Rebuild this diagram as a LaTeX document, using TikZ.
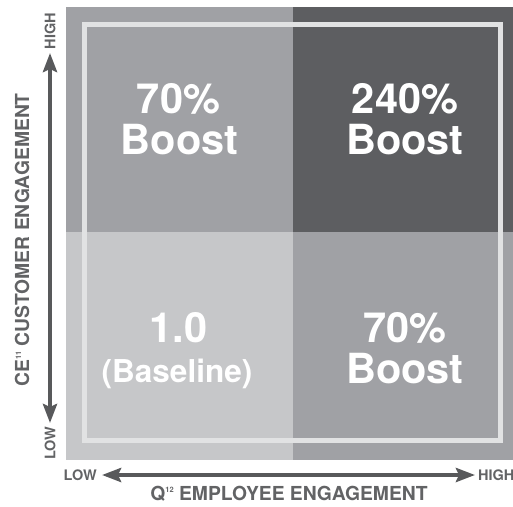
\documentclass[tikz,border=0pt]{standalone}
\usepackage{fontspec}
\setmainfont{TeX Gyre Heros}
\usetikzlibrary{arrows.meta}
\definecolor{qlight}{HTML}{C6C7C9}
\definecolor{qmid}{HTML}{A0A1A5}
\definecolor{qdark}{HTML}{5D5E61}
\definecolor{qframe}{HTML}{E1E2E3}
\definecolor{axisc}{HTML}{58595B}
\definecolor{labc}{HTML}{626365}
\tikzset{
  bigtxt/.style={text=white,font=\bfseries\fontsize{41.5}{41.5}\selectfont,anchor=base,inner sep=0pt},
  medtxt/.style={text=white,font=\bfseries\fontsize{31.5}{31.5}\selectfont,anchor=base,inner sep=0pt},
  ticklab/.style={text=labc,font=\bfseries\fontsize{14.5}{14.5}\selectfont,inner sep=0pt},
  axtitle/.style={text=labc,font=\bfseries\fontsize{19.3}{19.3}\selectfont,inner sep=0pt},
  axisarrow/.style={draw=axisc,line width=4pt,{Stealth[length=19pt,width=14pt,inset=3pt]}-{Stealth[length=19pt,width=14pt,inset=3pt]}}
}
\begin{document}
\begin{tikzpicture}[x=1pt,y=-1pt]
\useasboundingbox (0,0) rectangle (513,506);
\begin{scope}
\clip (0,0) rectangle (513,506);
% quadrants
\fill[qmid] (66,7) rectangle (293,232);
\fill[qdark] (293,7) rectangle (513,232);
\fill[qlight] (66,232) rectangle (293,460);
\fill[qmid] (293,232) rectangle (513,460);
% inner frame
\draw[qframe,line width=5pt] (84.5,24.5) rectangle (500.5,440.5);
% quadrant texts
\node[bigtxt] (tl1) at (178.5,113) {70\%};
\node[bigtxt] (tl2) at (179.5,154) {Boost};
\node[bigtxt] (tr1) at (405,113) {240\%};
\node[bigtxt] (tr2) at (405,154) {Boost};
\node[bigtxt] (bl1) at (178.5,342) {1.0};
\node[medtxt] (bl2) at (177,382) {(Baseline)};
\node[bigtxt] (br1) at (405,342) {70\%};
\node[bigtxt] (br2) at (405,383) {Boost};
% axes
\coordinate (ytop) at (50,53);
\coordinate (ybot) at (50,423);
\coordinate (xleft) at (102,475);
\coordinate (xright) at (475,475);
\draw[axisarrow] (ybot) -- (ytop);
\draw[axisarrow] (xleft) -- (xright);
\node[ticklab,rotate=90] (yhigh) at (50,31) {HIGH};
\node[ticklab,rotate=90] (ylow) at (50,443) {LOW};
\node[ticklab,anchor=east] (xlow) at (97,475) {LOW};
\node[ticklab,anchor=west] (xhigh) at (478,475) {HIGH};
\node[axtitle,rotate=90] (ytitle) at (22,240) {CE\raisebox{0.75ex}{\fontsize{7.5}{7.5}\selectfont 11} CUSTOMER ENGAGEMENT};
\node[axtitle] (xtitle) at (289,494) {Q\raisebox{0.75ex}{\fontsize{7.5}{7.5}\selectfont 12} EMPLOYEE ENGAGEMENT};
\end{scope}
\end{tikzpicture}
\end{document}
